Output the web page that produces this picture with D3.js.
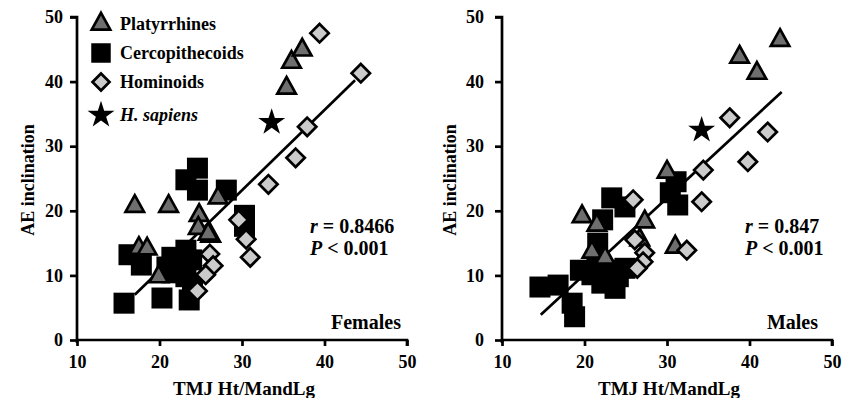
<!DOCTYPE html>
<html><head><meta charset="utf-8">
<script src="https://cdn.jsdelivr.net/npm/d3@7/dist/d3.min.js"></script>
<style>
html,body{margin:0;padding:0;background:#fff;}
text{font-family:"Liberation Serif","Times New Roman",serif;font-weight:bold;fill:#000;}
</style></head>
<body><svg id="c" width="849" height="398"></svg>
<script>
// ---------- DATA ----------
const xTicks = [10, 20, 30, 40, 50];
const yTicks = [0, 10, 20, 30, 40, 50];
const groups = ["Platyrrhines", "Cercopithecoids", "Hominoids", "H. sapiens"];

// Females
const fPlatX = [17.0, 21.1, 27.1, 24.8, 24.7, 26.2, 17.5, 18.5, 19.9, 35.4, 36.0, 37.3, 25.9];
const fPlatY = [20.7, 20.7, 22.0, 19.3, 17.3, 16.1, 14.2, 14.1, 9.8, 39.0, 43.0, 44.9, 16.4];
const fCercX = [24.6, 23.2, 24.6, 28.1, 30.3, 30.3, 16.3, 17.8, 15.7, 20.3, 23.6, 21.5, 23.2, 23.9, 21.5, 23.2, 20.9, 22.6, 24.0];
const fCercY = [26.6, 24.8, 23.2, 23.2, 19.3, 17.6, 13.2, 11.6, 5.7, 6.5, 6.2, 12.8, 13.9, 12.4, 10.4, 9.8, 11.3, 11.3, 8.8];
const fHomX = [39.4, 44.4, 37.9, 36.5, 33.2, 29.6, 30.5, 31.0, 26.1, 26.5, 25.6, 24.6];
const fHomY = [47.5, 41.3, 33.0, 28.2, 24.1, 18.6, 15.6, 12.8, 13.3, 11.5, 10.1, 7.6];
const fSapX = [33.6];
const fSapY = [33.7];
const fFitX = [17.0, 43.7];
const fFitY = [7.0, 40.2];

// Males
const mPlatX = [43.7, 38.8, 40.9, 30.0, 19.7, 21.5, 27.3, 26.7, 31.0, 20.9, 22.5];
const mPlatY = [46.4, 43.8, 41.3, 26.0, 19.1, 17.8, 18.3, 15.5, 14.4, 13.6, 12.7];
const mCercX = [23.3, 24.9, 22.2, 21.6, 31.1, 31.3, 30.4, 14.6, 16.8, 18.5, 18.8, 19.5, 20.9, 23.1, 24.1, 23.7, 22.1, 24.9, 21.5];
const mCercY = [22.0, 20.6, 18.6, 15.0, 24.5, 20.9, 22.8, 8.2, 8.5, 5.7, 3.6, 10.8, 10.1, 10.8, 9.8, 8.0, 8.8, 11.1, 11.9];
const mHomX = [37.6, 42.2, 39.8, 34.4, 34.2, 25.9, 32.4, 26.1, 27.3, 27.1, 26.4];
const mHomY = [34.4, 32.2, 27.6, 26.3, 21.4, 21.7, 13.9, 15.5, 13.5, 12.1, 11.1];
const mSapX = [34.2];
const mSapY = [32.5];
const mFitX = [14.7, 43.9];
const mFitY = [3.9, 38.4];

const fStats = ["0.8466", "0.001"];
const mStats = ["0.847", "0.001"];
const xTitle = "TMJ Ht/MandLg";
const yTitle = "AE inclination";

// ---------- DRAW ----------
const svg = d3.select("#c");

function triPath(w){ const h = w*0.9; return `M0,${-h*2/3}L${w/2},${h/3}L${-w/2},${h/3}Z`; }
function diaPath(r){ return `M0,${-r}L${r},0L0,${r}L${-r},0Z`; }
const sqPath = d3.symbol(d3.symbolSquare, 441)();
const starPath = d3.symbol(d3.symbolStar, 225)();

const styles = {
  tri: {d: triPath(18.5), fill: "#6e6e6e", stroke: "#000", sw: 2.7},
  sq:  {d: sqPath, fill: "#000", stroke: "#000", sw: 0},
  dia: {d: diaPath(9.2), fill: "#cbcbcb", stroke: "#000", sw: 2.7},
  star:{d: starPath, fill: "#000", stroke: "#000", sw: 0}
};

function drawMarks(g, xs, ys, st, x, y){
  g.append("g").selectAll("path").data(xs.map((v,i)=>[v, ys[i]])).join("path")
    .attr("d", st.d)
    .attr("transform", d => `translate(${x(d[0])},${y(d[1])})`)
    .attr("fill", st.fill).attr("stroke", st.stroke).attr("stroke-width", st.sw)
    .attr("stroke-linejoin", "miter");
}

function panel(opt){
  const x = d3.scaleLinear().domain([10, 50]).range([opt.x0, opt.x1]);
  const y = d3.scaleLinear().domain([0, 50]).range([340, 17]);
  const g = svg.append("g");

  const ax = g.append("g").attr("transform", "translate(0,340)")
    .call(d3.axisBottom(x).tickValues(xTicks).tickSize(6).tickPadding(5).tickFormat(d3.format("d")));
  const ay = g.append("g").attr("transform", `translate(${opt.x0},0)`)
    .call(d3.axisLeft(y).tickValues(yTicks).tickSize(7).tickPadding(opt.yPad).tickFormat(d3.format("d")));
  [ax, ay].forEach(a => {
    a.select(".domain").attr("stroke", "#000").attr("stroke-width", 2.7);
    a.selectAll(".tick line").attr("stroke", "#000").attr("stroke-width", 2.7);
    a.selectAll(".tick text").attr("font-size", 18).attr("font-family", "Liberation Serif").attr("font-weight", "bold").attr("fill", "#000");
  });
  ay.select(".domain").attr("d", `M-7,${y(50)}H0V${343}`);
  ax.select(".domain").attr("d", `M${x(10)},0H${x(50)}V6`);
  ax.selectAll(".tick text").attr("dy", "0.95em");

  g.append("text").attr("x", (opt.x0 + opt.x1)/2 + 2).attr("y", 395)
    .attr("text-anchor", "middle").attr("font-size", 19).text(xTitle);
  g.append("text").attr("transform", `translate(${opt.yTitleX},180) rotate(-90)`)
    .attr("text-anchor", "middle").attr("font-size", 18).text(yTitle);

  drawMarks(g, opt.cx, opt.cy, styles.sq, x, y);
  g.append("line")
    .attr("x1", x(opt.fitX[0])).attr("y1", y(opt.fitY[0]))
    .attr("x2", x(opt.fitX[1])).attr("y2", y(opt.fitY[1]))
    .attr("stroke", "#000").attr("stroke-width", 2.7);
  drawMarks(g, opt.px, opt.py, styles.tri, x, y);
  drawMarks(g, opt.hx, opt.hy, styles.dia, x, y);
  drawMarks(g, opt.sx, opt.sy, styles.star, x, y);

  const t1 = g.append("text").attr("x", opt.statX).attr("y", 233).attr("font-size", 20);
  t1.append("tspan").attr("font-style", "italic").text("r");
  t1.append("tspan").text(" = " + opt.stats[0]);
  const t2 = g.append("text").attr("x", opt.statX).attr("y", 255).attr("font-size", 20);
  t2.append("tspan").attr("font-style", "italic").text("P");
  t2.append("tspan").text(" < " + opt.stats[1]);

  g.append("text").attr("x", opt.labX).attr("y", 329).attr("text-anchor", "end")
    .attr("font-size", 20).text(opt.label);
  return {x, y};
}

panel({x0: 77, x1: 407, yPad: 7, yTitleX: 34,
  px: fPlatX, py: fPlatY, cx: fCercX, cy: fCercY, hx: fHomX, hy: fHomY, sx: fSapX, sy: fSapY,
  fitX: fFitX, fitY: fFitY, stats: fStats, statX: 310, label: "Females", labX: 401});
panel({x0: 502, x1: 832, yPad: 11, yTitleX: 456,
  px: mPlatX, py: mPlatY, cx: mCercX, cy: mCercY, hx: mHomX, hy: mHomY, sx: mSapX, sy: mSapY,
  fitX: mFitX, fitY: mFitY, stats: mStats, statX: 745, label: "Males", labX: 818});

// legend
const legStyles = [styles.tri, styles.sq, styles.dia, styles.star];
const legY = [24, 53, 82, 115];
const leg = svg.append("g");
groups.forEach((name, i) => {
  const st = legStyles[i];
  leg.append("path").attr("d", i === 1 ? d3.symbol(d3.symbolSquare, 380)() : (i === 2 ? diaPath(8.5) : st.d))
    .attr("transform", `translate(101,${legY[i]})`)
    .attr("fill", st.fill).attr("stroke", st.stroke).attr("stroke-width", st.sw);
  leg.append("text").attr("x", 120).attr("y", legY[i] + 6).attr("font-size", 18)
    .attr("font-style", i === 3 ? "italic" : "normal").text(name);
});
</script></body></html>
